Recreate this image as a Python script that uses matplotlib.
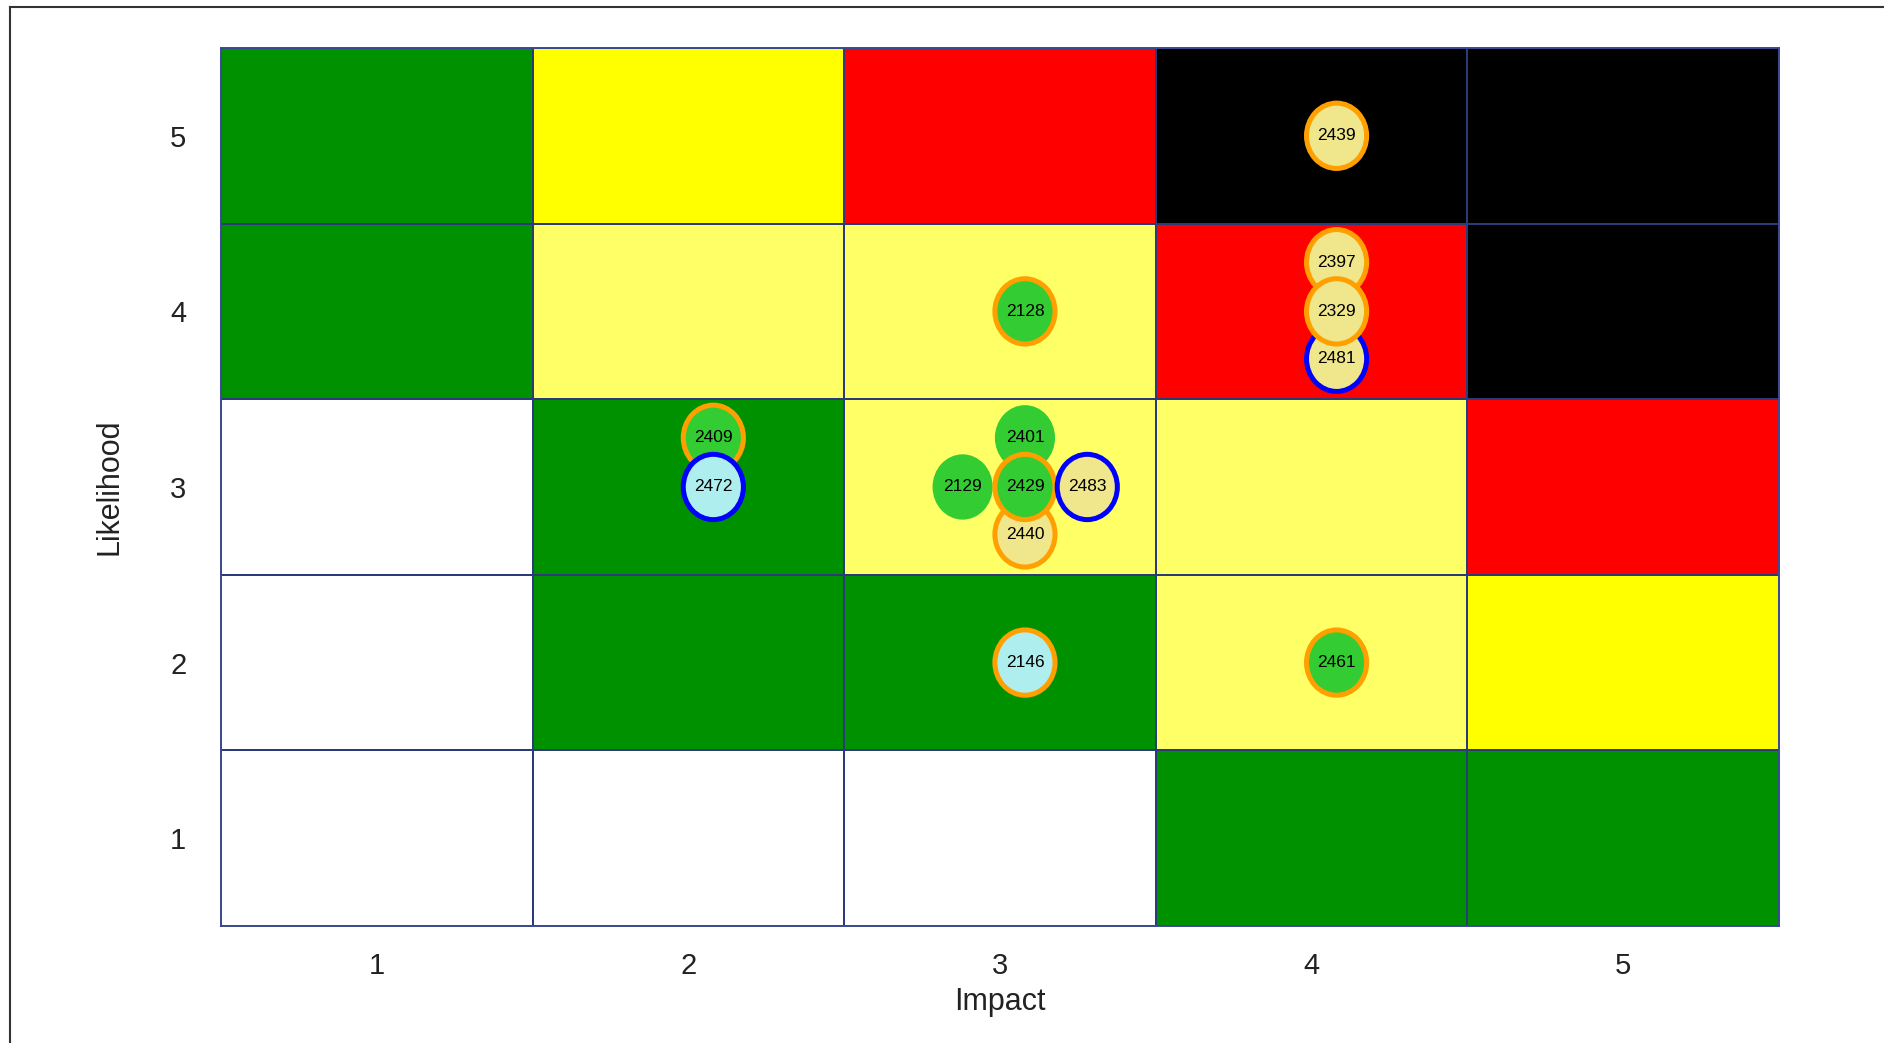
import numpy as np
import matplotlib.pyplot as plt
from matplotlib.colors import ListedColormap
from matplotlib.patches import Ellipse
from matplotlib.lines import Line2D

plt.rcParams['font.family'] = ['Liberation Sans', 'DejaVu Sans']

# risk level of each cell, rows = likelihood 1..5 (bottom to top), cols = impact 1..5
# 0 none, 1 low, 2 medium, 3 elevated, 4 high, 5 critical
risk_grid = np.array([
    [0, 0, 0, 1, 1],
    [0, 1, 1, 2, 3],
    [0, 1, 2, 2, 4],
    [1, 2, 2, 4, 5],
    [1, 3, 4, 5, 5],
])
level_colors = ['#ffffff', '#009100', '#ffff66', '#ffff00', '#ff0000', '#000000']

# risk items (listed in drawing order, later ones sit on top)
item_ids = ['2439', '2397', '2481', '2329', '2128', '2409', '2472',
            '2401', '2129', '2440', '2429', '2483', '2146', '2461']
item_impact = [4, 4, 4, 4, 3, 2, 2, 3, 3, 3, 3, 3, 3, 4]
item_likelihood = [5, 4, 4, 4, 4, 3, 3, 3, 3, 3, 3, 3, 2, 2]
item_fill = ['khaki', 'khaki', 'khaki', 'khaki', 'green', 'green', 'blue',
             'green', 'green', 'khaki', 'green', 'khaki', 'blue', 'green']
item_edge = ['orange', 'orange', 'blue', 'orange', 'orange', 'orange', 'blue',
             'none', 'none', 'orange', 'orange', 'blue', 'orange', 'orange']
item_slot = ['c', 'up', 'down', 'c', 'c', 'up', 'c',
             'up', 'left', 'down', 'c', 'right', 'c', 'c']

fill_map = {'khaki': '#f0e68c', 'green': '#33cc33', 'blue': '#afeeee'}
edge_map = {'orange': '#ffa000', 'blue': '#0000ff', 'none': 'none'}
slot_offset = {'c': (0, 0), 'up': (0, 0.28), 'down': (0, -0.27),
               'left': (-0.2, 0), 'right': (0.2, 0)}

fig = plt.figure(figsize=(18.84, 10.43), dpi=100)
ax = fig.add_axes([0.1173, 0.1122, 0.827, 0.8418])

edges = np.arange(0.5, 6.0, 1.0)
ax.pcolormesh(edges, edges, risk_grid, cmap=ListedColormap(level_colors),
              vmin=-0.5, vmax=5.5, edgecolors='#2b3a7a', linewidth=1.4)

for i, tag in enumerate(item_ids):
    dx, dy = slot_offset[item_slot[i]]
    cx = item_impact[i] + 0.08 + dx
    cy = item_likelihood[i] + dy
    ax.add_patch(Ellipse((cx, cy), 0.193, 0.372, facecolor=fill_map[item_fill[i]],
                         edgecolor=edge_map[item_edge[i]], linewidth=3.6, zorder=3))
    ax.text(cx, cy, tag, ha='center', va='center', fontsize=12.5, color='black', zorder=4)

ax.set_xlim(0.5, 5.5)
ax.set_ylim(0.5, 5.5)
ax.set_xticks([1, 2, 3, 4, 5])
ax.set_yticks([1, 2, 3, 4, 5])
ax.tick_params(length=0, labelsize=21, labelcolor='#222222')
ax.tick_params(axis='x', pad=19)
ax.tick_params(axis='y', pad=25)
ax.set_xlabel('Impact', fontsize=22, color='#222222', labelpad=5)
ax.set_ylabel('Likelihood', fontsize=22, color='#222222', labelpad=33)
for s in ax.spines.values():
    s.set_color('#3a4a90')
    s.set_linewidth(1.4)

# frame around the chart area (left and top edges)
fig.add_artist(Line2D([0.0053, 0.0053], [0.0, 0.9933], transform=fig.transFigure,
                      color='#333333', linewidth=1.5))
fig.add_artist(Line2D([0.0053, 1.0], [0.9933, 0.9933], transform=fig.transFigure,
                      color='#333333', linewidth=1.5))

fig.savefig('out.png', dpi=100)
